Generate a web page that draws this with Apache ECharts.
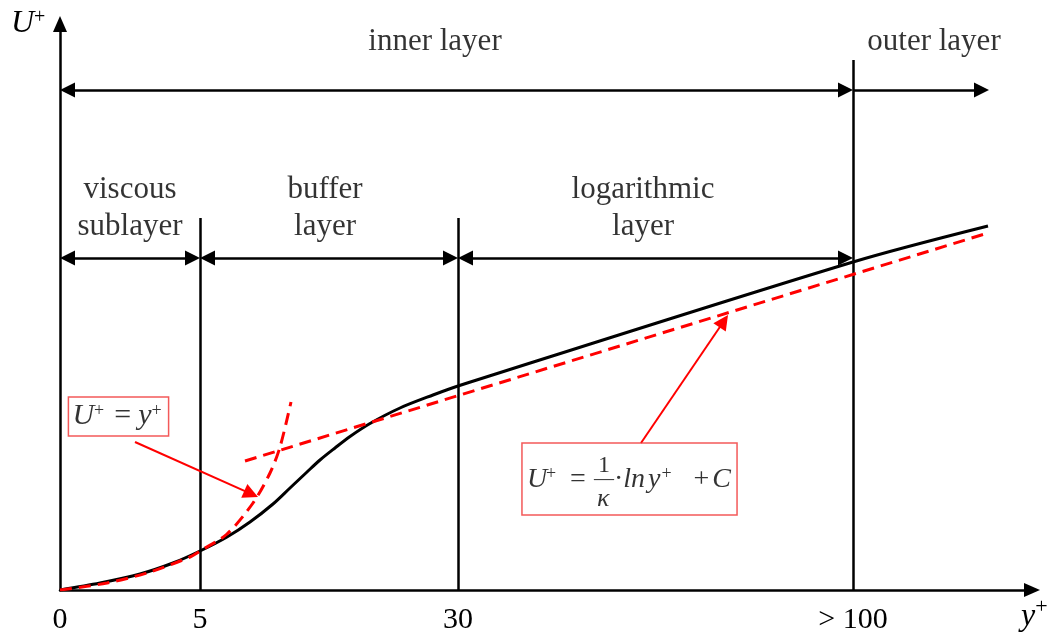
<!DOCTYPE html>
<html>
<head>
<meta charset="utf-8">
<script src="https://cdn.jsdelivr.net/npm/echarts@6/dist/echarts.min.js"></script>
<style>html,body{margin:0;padding:0;background:#fff}#c{width:1052px;height:637px}</style>
</head>
<body>
<div id="c"></div>
<script>
// ---- Schematic data (abstract position units along each axis) ----
const tickPositions = [0, 14, 39.8, 79.3];
const tickLabels = ['0', '5', '30', '> 100'];

// measured velocity profile U+ (black solid)
const profileX = [0, 4, 8, 11.3, 14, 16.7, 19, 21.3, 23, 24.7, 26, 27.5, 29, 31, 34, 37.3, 39.8, 79.3, 92.8];
const profileY = [0, 0.7, 1.6, 2.7, 3.9, 5.3, 6.8, 8.6, 10.2, 11.8, 13.0, 14.2, 15.35, 16.65, 18.2, 19.5, 20.4, 32.8, 36.4];

// viscous law U+ = y+ (red dashed)
const viscousX = [0, 4.7, 9, 13, 14, 16.7, 19.3, 21, 22, 23.1];
const viscousY = [0, 0.7, 1.8, 3.3, 3.9, 5.6, 8.7, 11.7, 14.3, 18.8];

// log law (red dashed)
const logLawX = [18.5, 92.8];
const logLawY = [12.9, 35.7];

// region dividers
const dividerX = [14, 39.8, 79.3];
const dividerTop = [37.2, 37.2, 53];

// region arrows and labels
const regionBounds = [0, 14, 39.8, 79.3];
const regionArrowY = 33.2;
const regionNames = ['viscous\nsublayer', 'buffer\nlayer', 'logarithmic\nlayer'];
const regionLabelX = [7.0, 26.5, 58.3];
const regionLabelY = 38.2;

// layer arrows and labels
const innerBounds = [0, 79.3];
const outerBounds = [79.3, 92.9];
const layerArrowY = 50;
const layerNames = ['inner layer', 'outer layer'];
const layerLabelX = [37.5, 87.4];
const layerLabelY = 54.85;

// annotation boxes and pointer arrows
const viscousBoxAt = [5.85, 17.35];
const viscousPointer = [[7.5, 14.8], [19.8, 9.3]];
const logBoxAt = [56.95, 11.1];
const logPointer = [[58.1, 14.7], [66.8, 27.5]];

// ---- build ----
const XMAX = 97.2, YMAX = 56.6;
const ARROW = 15;            // px
const HALF = ARROW / 2 / 10; // in units (10 px per unit)
const SERIF = 'Liberation Serif';
const RED = '#ff0000';

function pair(xs, ys) { return xs.map((x, i) => [x, ys[i]]); }
function towards(p, q, d) {
  const dx = q[0] - p[0], dy = q[1] - p[1];
  const L = Math.hypot(dx, dy);
  return [q[0] - dx / L * d, q[1] - dy / L * d];
}
function dbl(a, b, y) { return { coords: [[a + HALF, y], [b - HALF, y]] }; }

const regionArrows = [];
for (let i = 0; i < regionBounds.length - 1; i++) {
  regionArrows.push(dbl(regionBounds[i], regionBounds[i + 1], regionArrowY));
}
regionArrows.push(dbl(innerBounds[0], innerBounds[1], layerArrowY));

const outerArrow = [{ coords: [[outerBounds[0], layerArrowY], [outerBounds[1] - HALF, layerArrowY]] }];

const pointers = [viscousPointer, logPointer].map(p => ({ coords: [p[0], towards(p[0], p[1], HALF)] }));

const textItems = [];
regionNames.forEach((n, i) => textItems.push({ value: [regionLabelX[i], regionLabelY], name: n }));
layerNames.forEach((n, i) => textItems.push({ value: [layerLabelX[i], layerLabelY], name: n }));

function tok(size, extra) {
  return Object.assign({ fontFamily: SERIF, fontSize: size, color: '#000', align: 'left' }, extra || {});
}

const viscousBox = {
  value: viscousBoxAt,
  label: {
    show: true, position: 'inside',
    formatter: '{U|U}{s|+}{eq|=}{y|y}{s|+}',
    borderColor: '#f03030', borderWidth: 1.5,
    padding: [3, 7, 3, 4],
    rich: {
      U: tok(30, { fontStyle: 'italic', lineHeight: 33 }),
      s: tok(18, { lineHeight: 33, padding: [0, 0, 11, 0] }),
      eq: tok(30, { lineHeight: 33, padding: [0, 7, 0, 10] }),
      y: tok(30, { fontStyle: 'italic', lineHeight: 33 })
    }
  }
};

const logBox = {
  value: logBoxAt,
  label: {
    show: true, position: 'inside',
    formatter: '{g1| }{num|1}\n{U|U}{s|+}{eq|=}{bar|—}{dot|·}{ln|ln}{y|y}{s2|+}{pl|+}{C|C}\n{g3| }{kap|κ}',
    borderColor: '#f03030', borderWidth: 1.5,
    padding: [16, 6, 4, 5],
    rich: {
      g1: tok(10, { width: 67, lineHeight: 14 }),
      num: tok(24, { lineHeight: 14, padding: [0, 0, 0, 4] }),
      U: tok(28, { fontStyle: 'italic', lineHeight: 14, width: 19 }),
      s: tok(18, { lineHeight: 14, padding: [0, 0, 11, 0] }),
      eq: tok(28, { lineHeight: 14, padding: [0, 8, 0, 14] }),
      bar: tok(20, { lineHeight: 14 }),
      dot: tok(28, { lineHeight: 14 }),
      ln: tok(28, { fontStyle: 'italic', lineHeight: 14, padding: [0, 3, 0, 0] }),
      y: tok(28, { fontStyle: 'italic', lineHeight: 14 }),
      s2: tok(18, { lineHeight: 14, padding: [0, 8, 11, 1] }),
      pl: tok(28, { lineHeight: 14, padding: [0, 3, 0, 14] }),
      C: tok(28, { fontStyle: 'italic', lineHeight: 14 }),
      g3: tok(10, { width: 67, lineHeight: 24 }),
      kap: tok(26, { fontStyle: 'italic', lineHeight: 24, padding: [0, 0, 0, 3] })
    }
  }
};

const axisArrowLine = { show: true, symbol: ['none', 'triangle'], symbolSize: [14, 16], lineStyle: { color: '#000', width: 2.5 } };

const option = {
  animation: false,
  backgroundColor: '#fff',
  grid: { left: 60, right: 20, top: 24, bottom: 47, containLabel: false, outerBoundsMode: 'none' },
  xAxis: {
    type: 'value', min: 0, max: XMAX,
    axisLine: axisArrowLine,
    axisTick: { show: false },
    splitLine: { show: false },
    axisLabel: {
      customValues: tickPositions,
      formatter: v => { const i = tickPositions.indexOf(v); return i >= 0 ? tickLabels[i] : ''; },
      fontFamily: SERIF, fontSize: 30, color: '#000', margin: 15
    }
  },
  yAxis: {
    type: 'value', min: 0, max: YMAX,
    axisLine: axisArrowLine,
    axisTick: { show: false },
    splitLine: { show: false },
    axisLabel: { show: false }
  },
  graphic: [
    { type: 'text', x: 11, y: 24, style: { text: '{U|U}{s|+}', verticalAlign: 'middle', align: 'left',
      rich: { U: { fontFamily: SERIF, fontSize: 32, fontStyle: 'italic', lineHeight: 34, fill: '#000' },
              s: { fontFamily: SERIF, fontSize: 20, lineHeight: 34, padding: [0, 0, 12, 0], fill: '#000' } } } },
    { type: 'text', x: 1021, y: 617, style: { text: '{y|y}{s|+}', verticalAlign: 'middle', align: 'left',
      rich: { y: { fontFamily: SERIF, fontSize: 32, fontStyle: 'italic', lineHeight: 34, fill: '#000' },
              s: { fontFamily: SERIF, fontSize: 22, lineHeight: 34, padding: [0, 0, 20, 0], fill: '#000' } } } }
  ],
  series: [
    { type: 'lines', coordinateSystem: 'cartesian2d', symbol: 'none', silent: true, z: 2,
      lineStyle: { color: '#000', width: 2.5, opacity: 1 },
      data: dividerX.map((x, i) => ({ coords: [[x, 0], [x, dividerTop[i]]] })) },
    { type: 'lines', coordinateSystem: 'cartesian2d', symbol: ['triangle', 'triangle'], symbolSize: ARROW, silent: true, z: 2,
      lineStyle: { color: '#000', width: 2.5, opacity: 1 }, itemStyle: { color: '#000' },
      data: regionArrows },
    { type: 'lines', coordinateSystem: 'cartesian2d', symbol: ['none', 'triangle'], symbolSize: ARROW, silent: true, z: 2,
      lineStyle: { color: '#000', width: 2.5, opacity: 1 }, itemStyle: { color: '#000' },
      data: outerArrow },
    { type: 'line', data: pair(profileX, profileY), smooth: 0.3, showSymbol: false, silent: true, z: 3,
      lineStyle: { color: '#000', width: 3 } },
    { type: 'line', data: pair(viscousX, viscousY), smooth: 0.3, showSymbol: false, silent: true, z: 4,
      lineStyle: { color: RED, width: 3, type: [12, 7] } },
    { type: 'line', data: pair(logLawX, logLawY), showSymbol: false, silent: true, z: 4,
      lineStyle: { color: RED, width: 3, type: [12, 7] } },
    { type: 'lines', coordinateSystem: 'cartesian2d', symbol: ['none', 'triangle'], symbolSize: ARROW, silent: true, z: 5,
      lineStyle: { color: RED, width: 2, opacity: 1 }, itemStyle: { color: RED },
      data: pointers },
    { type: 'scatter', symbolSize: 0, silent: true, z: 6,
      data: textItems,
      label: { show: true, position: 'inside', formatter: p => p.name,
        fontFamily: SERIF, fontSize: 31, color: '#000', lineHeight: 37 } },
    { type: 'scatter', symbolSize: 0, silent: true, z: 6, data: [viscousBox, logBox] }
  ]
};
const chart = echarts.init(document.getElementById('c'));
chart.setOption(option);
</script>
</body>
</html>
